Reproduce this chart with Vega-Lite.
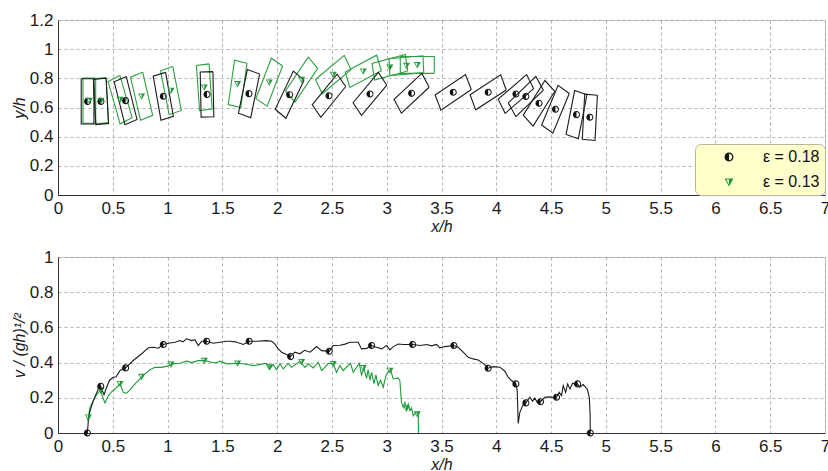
{
"$schema": "https://vega.github.io/schema/vega-lite/v6.json",
"padding": {"left": 10, "top": 10, "right": 0, "bottom": 0},
"spacing": 62,
"bounds": "flush",
"resolve": {"scale": {"color": "independent", "shape": "independent"}, "legend": {"color": "independent", "shape": "independent"}},
"datasets": {
"rects": [
{"s":"b","r":1,"k":1,"x":0.328,"y":0.797},{"s":"b","r":1,"k":2,"x":0.212,"y":0.797},{"s":"b","r":1,"k":3,"x":0.212,"y":0.487},{"s":"b","r":1,"k":4,"x":0.328,"y":0.487},{"s":"b","r":1,"k":5,"x":0.328,"y":0.797},
{"s":"b","r":2,"k":1,"x":0.439,"y":0.801},{"s":"b","r":2,"k":2,"x":0.323,"y":0.793},{"s":"b","r":2,"k":3,"x":0.345,"y":0.483},{"s":"b","r":2,"k":4,"x":0.461,"y":0.491},{"s":"b","r":2,"k":5,"x":0.439,"y":0.801},
{"s":"b","r":3,"k":1,"x":0.623,"y":0.812},{"s":"b","r":3,"k":2,"x":0.513,"y":0.776},{"s":"b","r":3,"k":3,"x":0.611,"y":0.482},{"s":"b","r":3,"k":4,"x":0.721,"y":0.518},{"s":"b","r":3,"k":5,"x":0.623,"y":0.812},
{"s":"b","r":4,"k":1,"x":0.982,"y":0.841},{"s":"b","r":4,"k":2,"x":0.869,"y":0.815},{"s":"b","r":4,"k":3,"x":0.940,"y":0.513},{"s":"b","r":4,"k":4,"x":1.053,"y":0.539},{"s":"b","r":4,"k":5,"x":0.982,"y":0.841},
{"s":"b","r":5,"k":1,"x":1.414,"y":0.846},{"s":"b","r":5,"k":2,"x":1.298,"y":0.844},{"s":"b","r":5,"k":3,"x":1.306,"y":0.534},{"s":"b","r":5,"k":4,"x":1.422,"y":0.536},{"s":"b","r":5,"k":5,"x":1.414,"y":0.846},
{"s":"b","r":6,"k":1,"x":1.840,"y":0.829},{"s":"b","r":6,"k":2,"x":1.728,"y":0.860},{"s":"b","r":6,"k":3,"x":1.647,"y":0.561},{"s":"b","r":6,"k":4,"x":1.759,"y":0.530},{"s":"b","r":6,"k":5,"x":1.840,"y":0.829},
{"s":"b","r":7,"k":1,"x":2.246,"y":0.788},{"s":"b","r":7,"k":2,"x":2.148,"y":0.850},{"s":"b","r":7,"k":3,"x":1.982,"y":0.588},{"s":"b","r":7,"k":4,"x":2.080,"y":0.526},{"s":"b","r":7,"k":5,"x":2.246,"y":0.788},
{"s":"b","r":8,"k":1,"x":2.626,"y":0.744},{"s":"b","r":8,"k":2,"x":2.547,"y":0.829},{"s":"b","r":8,"k":3,"x":2.320,"y":0.618},{"s":"b","r":8,"k":4,"x":2.399,"y":0.533},{"s":"b","r":8,"k":5,"x":2.626,"y":0.744},
{"s":"b","r":9,"k":1,"x":3.001,"y":0.753},{"s":"b","r":9,"k":2,"x":2.924,"y":0.840},{"s":"b","r":9,"k":3,"x":2.693,"y":0.633},{"s":"b","r":9,"k":4,"x":2.770,"y":0.546},{"s":"b","r":9,"k":5,"x":3.001,"y":0.753},
{"s":"b","r":10,"k":1,"x":3.387,"y":0.739},{"s":"b","r":10,"k":2,"x":3.321,"y":0.834},{"s":"b","r":10,"k":3,"x":3.067,"y":0.656},{"s":"b","r":10,"k":4,"x":3.134,"y":0.561},{"s":"b","r":10,"k":5,"x":3.387,"y":0.739},
{"s":"b","r":11,"k":1,"x":3.772,"y":0.723},{"s":"b","r":11,"k":2,"x":3.719,"y":0.826},{"s":"b","r":11,"k":3,"x":3.442,"y":0.686},{"s":"b","r":11,"k":4,"x":3.495,"y":0.582},{"s":"b","r":11,"k":5,"x":3.772,"y":0.723},
{"s":"b","r":12,"k":1,"x":4.091,"y":0.720},{"s":"b","r":12,"k":2,"x":4.040,"y":0.824},{"s":"b","r":12,"k":3,"x":3.761,"y":0.688},{"s":"b","r":12,"k":4,"x":3.812,"y":0.584},{"s":"b","r":12,"k":5,"x":4.091,"y":0.720},
{"s":"b","r":13,"k":1,"x":4.341,"y":0.729},{"s":"b","r":13,"k":2,"x":4.277,"y":0.826},{"s":"b","r":13,"k":3,"x":4.017,"y":0.657},{"s":"b","r":13,"k":4,"x":4.081,"y":0.560},{"s":"b","r":13,"k":5,"x":4.341,"y":0.729},
{"s":"b","r":14,"k":1,"x":4.430,"y":0.719},{"s":"b","r":14,"k":2,"x":4.361,"y":0.813},{"s":"b","r":14,"k":3,"x":4.110,"y":0.631},{"s":"b","r":14,"k":4,"x":4.179,"y":0.537},{"s":"b","r":14,"k":5,"x":4.430,"y":0.719},
{"s":"b","r":15,"k":1,"x":4.534,"y":0.711},{"s":"b","r":15,"k":2,"x":4.444,"y":0.785},{"s":"b","r":15,"k":3,"x":4.246,"y":0.547},{"s":"b","r":15,"k":4,"x":4.336,"y":0.473},{"s":"b","r":15,"k":5,"x":4.534,"y":0.711},
{"s":"b","r":16,"k":1,"x":4.666,"y":0.696},{"s":"b","r":16,"k":2,"x":4.564,"y":0.752},{"s":"b","r":16,"k":3,"x":4.414,"y":0.480},{"s":"b","r":16,"k":4,"x":4.516,"y":0.424},{"s":"b","r":16,"k":5,"x":4.666,"y":0.696},
{"s":"b","r":17,"k":1,"x":4.827,"y":0.687},{"s":"b","r":17,"k":2,"x":4.715,"y":0.716},{"s":"b","r":17,"k":3,"x":4.637,"y":0.415},{"s":"b","r":17,"k":4,"x":4.749,"y":0.386},{"s":"b","r":17,"k":5,"x":4.827,"y":0.687},
{"s":"b","r":18,"k":1,"x":4.923,"y":0.684},{"s":"b","r":18,"k":2,"x":4.807,"y":0.692},{"s":"b","r":18,"k":3,"x":4.785,"y":0.382},{"s":"b","r":18,"k":4,"x":4.901,"y":0.374},{"s":"b","r":18,"k":5,"x":4.923,"y":0.684},
{"s":"g","r":1,"k":1,"x":0.344,"y":0.802},{"s":"g","r":1,"k":2,"x":0.228,"y":0.802},{"s":"g","r":1,"k":3,"x":0.228,"y":0.492},{"s":"g","r":1,"k":4,"x":0.344,"y":0.492},{"s":"g","r":1,"k":5,"x":0.344,"y":0.802},
{"s":"g","r":2,"k":1,"x":0.439,"y":0.806},{"s":"g","r":2,"k":2,"x":0.323,"y":0.798},{"s":"g","r":2,"k":3,"x":0.345,"y":0.488},{"s":"g","r":2,"k":4,"x":0.461,"y":0.496},{"s":"g","r":2,"k":5,"x":0.439,"y":0.806},
{"s":"g","r":3,"k":1,"x":0.565,"y":0.820},{"s":"g","r":3,"k":2,"x":0.457,"y":0.778},{"s":"g","r":3,"k":3,"x":0.567,"y":0.488},{"s":"g","r":3,"k":4,"x":0.676,"y":0.530},{"s":"g","r":3,"k":5,"x":0.565,"y":0.820},
{"s":"g","r":4,"k":1,"x":0.773,"y":0.842},{"s":"g","r":4,"k":2,"x":0.662,"y":0.808},{"s":"g","r":4,"k":3,"x":0.753,"y":0.512},{"s":"g","r":4,"k":4,"x":0.864,"y":0.546},{"s":"g","r":4,"k":5,"x":0.773,"y":0.842},
{"s":"g","r":5,"k":1,"x":1.048,"y":0.881},{"s":"g","r":5,"k":2,"x":0.936,"y":0.852},{"s":"g","r":5,"k":3,"x":1.014,"y":0.551},{"s":"g","r":5,"k":4,"x":1.126,"y":0.580},{"s":"g","r":5,"k":5,"x":1.048,"y":0.881},
{"s":"g","r":6,"k":1,"x":1.379,"y":0.899},{"s":"g","r":6,"k":2,"x":1.263,"y":0.888},{"s":"g","r":6,"k":3,"x":1.292,"y":0.579},{"s":"g","r":6,"k":4,"x":1.407,"y":0.590},{"s":"g","r":6,"k":5,"x":1.379,"y":0.899},
{"s":"g","r":7,"k":1,"x":1.725,"y":0.904},{"s":"g","r":7,"k":2,"x":1.611,"y":0.925},{"s":"g","r":7,"k":3,"x":1.554,"y":0.620},{"s":"g","r":7,"k":4,"x":1.668,"y":0.599},{"s":"g","r":7,"k":5,"x":1.725,"y":0.904},
{"s":"g","r":8,"k":1,"x":2.050,"y":0.885},{"s":"g","r":8,"k":2,"x":1.947,"y":0.938},{"s":"g","r":8,"k":3,"x":1.806,"y":0.661},{"s":"g","r":8,"k":4,"x":1.909,"y":0.609},{"s":"g","r":8,"k":5,"x":2.050,"y":0.885},
{"s":"g","r":9,"k":1,"x":2.370,"y":0.868},{"s":"g","r":9,"k":2,"x":2.283,"y":0.945},{"s":"g","r":9,"k":3,"x":2.076,"y":0.714},{"s":"g","r":9,"k":4,"x":2.163,"y":0.637},{"s":"g","r":9,"k":5,"x":2.370,"y":0.868},
{"s":"g","r":10,"k":1,"x":2.674,"y":0.860},{"s":"g","r":10,"k":2,"x":2.612,"y":0.958},{"s":"g","r":10,"k":3,"x":2.350,"y":0.792},{"s":"g","r":10,"k":4,"x":2.412,"y":0.694},{"s":"g","r":10,"k":5,"x":2.674,"y":0.860},
{"s":"g","r":11,"k":1,"x":2.951,"y":0.852},{"s":"g","r":11,"k":2,"x":2.908,"y":0.959},{"s":"g","r":11,"k":3,"x":2.621,"y":0.844},{"s":"g","r":11,"k":4,"x":2.664,"y":0.737},{"s":"g","r":11,"k":5,"x":2.951,"y":0.852},
{"s":"g","r":12,"k":1,"x":3.192,"y":0.850},{"s":"g","r":12,"k":2,"x":3.169,"y":0.963},{"s":"g","r":12,"k":3,"x":2.866,"y":0.902},{"s":"g","r":12,"k":4,"x":2.889,"y":0.789},{"s":"g","r":12,"k":5,"x":3.192,"y":0.850},
{"s":"g","r":13,"k":1,"x":3.338,"y":0.839},{"s":"g","r":13,"k":2,"x":3.331,"y":0.955},{"s":"g","r":13,"k":3,"x":3.021,"y":0.935},{"s":"g","r":13,"k":4,"x":3.029,"y":0.819},{"s":"g","r":13,"k":5,"x":3.338,"y":0.839},
{"s":"g","r":14,"k":1,"x":3.434,"y":0.834},{"s":"g","r":14,"k":2,"x":3.434,"y":0.950},{"s":"g","r":14,"k":3,"x":3.124,"y":0.950},{"s":"g","r":14,"k":4,"x":3.124,"y":0.834},{"s":"g","r":14,"k":5,"x":3.434,"y":0.834}
],
"centers": [
{"s":"ε = 0.18","x":0.27,"y":0.642},{"s":"ε = 0.18","x":0.392,"y":0.642},{"s":"ε = 0.18","x":0.617,"y":0.647},{"s":"ε = 0.18","x":0.961,"y":0.677},{"s":"ε = 0.18","x":1.36,"y":0.69},{"s":"ε = 0.18","x":1.743,"y":0.695},{"s":"ε = 0.18","x":2.114,"y":0.688},{"s":"ε = 0.18","x":2.473,"y":0.681},{"s":"ε = 0.18","x":2.847,"y":0.693},{"s":"ε = 0.18","x":3.227,"y":0.697},{"s":"ε = 0.18","x":3.607,"y":0.704},{"s":"ε = 0.18","x":3.926,"y":0.704},{"s":"ε = 0.18","x":4.179,"y":0.693},{"s":"ε = 0.18","x":4.27,"y":0.675},{"s":"ε = 0.18","x":4.39,"y":0.629},{"s":"ε = 0.18","x":4.54,"y":0.588},{"s":"ε = 0.18","x":4.732,"y":0.551},{"s":"ε = 0.18","x":4.854,"y":0.533},
{"s":"ε = 0.13","x":0.286,"y":0.647},{"s":"ε = 0.13","x":0.392,"y":0.647},{"s":"ε = 0.13","x":0.566,"y":0.654},{"s":"ε = 0.13","x":0.763,"y":0.677},{"s":"ε = 0.13","x":1.031,"y":0.716},{"s":"ε = 0.13","x":1.335,"y":0.739},{"s":"ε = 0.13","x":1.639,"y":0.762},{"s":"ε = 0.13","x":1.928,"y":0.773},{"s":"ε = 0.13","x":2.223,"y":0.791},{"s":"ε = 0.13","x":2.512,"y":0.826},{"s":"ε = 0.13","x":2.786,"y":0.848},{"s":"ε = 0.13","x":3.029,"y":0.876},{"s":"ε = 0.13","x":3.18,"y":0.887},{"s":"ε = 0.13","x":3.279,"y":0.892}
],
"vel": [
{"s":"b","x":0.268,"v":0.0},{"s":"b","x":0.277,"v":0.07},{"s":"b","x":0.29,"v":0.12},{"s":"b","x":0.322,"v":0.184},{"s":"b","x":0.368,"v":0.25},{"s":"b","x":0.39,"v":0.265},{"s":"b","x":0.405,"v":0.24},{"s":"b","x":0.42,"v":0.218},{"s":"b","x":0.444,"v":0.26},{"s":"b","x":0.47,"v":0.3},{"s":"b","x":0.505,"v":0.317},{"s":"b","x":0.53,"v":0.32},{"s":"b","x":0.566,"v":0.355},{"s":"b","x":0.617,"v":0.37},{"s":"b","x":0.687,"v":0.412},{"s":"b","x":0.763,"v":0.45},{"s":"b","x":0.824,"v":0.484},{"s":"b","x":0.87,"v":0.487},{"s":"b","x":0.915,"v":0.482},{"s":"b","x":0.961,"v":0.503},{"s":"b","x":1.007,"v":0.51},{"s":"b","x":1.068,"v":0.516},{"s":"b","x":1.113,"v":0.525},{"s":"b","x":1.14,"v":0.518},{"s":"b","x":1.174,"v":0.535},{"s":"b","x":1.22,"v":0.525},{"s":"b","x":1.25,"v":0.53},{"s":"b","x":1.28,"v":0.497},{"s":"b","x":1.311,"v":0.521},{"s":"b","x":1.357,"v":0.521},{"s":"b","x":1.417,"v":0.51},{"s":"b","x":1.478,"v":0.516},{"s":"b","x":1.539,"v":0.521},{"s":"b","x":1.569,"v":0.521},{"s":"b","x":1.62,"v":0.518},{"s":"b","x":1.691,"v":0.503},{"s":"b","x":1.745,"v":0.521},{"s":"b","x":1.813,"v":0.521},{"s":"b","x":1.904,"v":0.525},{"s":"b","x":1.95,"v":0.521},{"s":"b","x":1.98,"v":0.505},{"s":"b","x":2.01,"v":0.478},{"s":"b","x":2.041,"v":0.459},{"s":"b","x":2.071,"v":0.45},{"s":"b","x":2.123,"v":0.434},{"s":"b","x":2.162,"v":0.459},{"s":"b","x":2.208,"v":0.45},{"s":"b","x":2.25,"v":0.47},{"s":"b","x":2.3,"v":0.459},{"s":"b","x":2.36,"v":0.491},{"s":"b","x":2.406,"v":0.468},{"s":"b","x":2.476,"v":0.464},{"s":"b","x":2.512,"v":0.497},{"s":"b","x":2.573,"v":0.499},{"s":"b","x":2.62,"v":0.505},{"s":"b","x":2.664,"v":0.516},{"s":"b","x":2.71,"v":0.516},{"s":"b","x":2.74,"v":0.516},{"s":"b","x":2.77,"v":0.478},{"s":"b","x":2.816,"v":0.481},{"s":"b","x":2.862,"v":0.497},{"s":"b","x":2.907,"v":0.487},{"s":"b","x":2.953,"v":0.478},{"s":"b","x":2.999,"v":0.497},{"s":"b","x":3.029,"v":0.472},{"s":"b","x":3.06,"v":0.491},{"s":"b","x":3.105,"v":0.506},{"s":"b","x":3.151,"v":0.503},{"s":"b","x":3.236,"v":0.503},{"s":"b","x":3.303,"v":0.497},{"s":"b","x":3.364,"v":0.503},{"s":"b","x":3.41,"v":0.495},{"s":"b","x":3.455,"v":0.503},{"s":"b","x":3.485,"v":0.484},{"s":"b","x":3.531,"v":0.491},{"s":"b","x":3.613,"v":0.497},{"s":"b","x":3.652,"v":0.487},{"s":"b","x":3.698,"v":0.459},{"s":"b","x":3.744,"v":0.43},{"s":"b","x":3.789,"v":0.421},{"s":"b","x":3.835,"v":0.415},{"s":"b","x":3.88,"v":0.396},{"s":"b","x":3.926,"v":0.368},{"s":"b","x":3.972,"v":0.377},{"s":"b","x":4.033,"v":0.374},{"s":"b","x":4.078,"v":0.351},{"s":"b","x":4.109,"v":0.317},{"s":"b","x":4.139,"v":0.298},{"s":"b","x":4.179,"v":0.279},{"s":"b","x":4.191,"v":0.241},{"s":"b","x":4.2,"v":0.055},{"s":"b","x":4.215,"v":0.117},{"s":"b","x":4.24,"v":0.155},{"s":"b","x":4.27,"v":0.171},{"s":"b","x":4.307,"v":0.203},{"s":"b","x":4.331,"v":0.18},{"s":"b","x":4.352,"v":0.199},{"s":"b","x":4.373,"v":0.174},{"s":"b","x":4.404,"v":0.178},{"s":"b","x":4.443,"v":0.203},{"s":"b","x":4.48,"v":0.205},{"s":"b","x":4.514,"v":0.203},{"s":"b","x":4.55,"v":0.203},{"s":"b","x":4.574,"v":0.231},{"s":"b","x":4.596,"v":0.212},{"s":"b","x":4.611,"v":0.269},{"s":"b","x":4.633,"v":0.231},{"s":"b","x":4.651,"v":0.279},{"s":"b","x":4.672,"v":0.25},{"s":"b","x":4.696,"v":0.282},{"s":"b","x":4.742,"v":0.279},{"s":"b","x":4.763,"v":0.26},{"s":"b","x":4.793,"v":0.275},{"s":"b","x":4.83,"v":0.25},{"s":"b","x":4.849,"v":0.203},{"s":"b","x":4.856,"v":0.108},{"s":"b","x":4.858,"v":0.0},
{"s":"g","x":0.27,"v":0.07},{"s":"g","x":0.277,"v":0.089},{"s":"g","x":0.292,"v":0.146},{"s":"g","x":0.338,"v":0.203},{"s":"g","x":0.368,"v":0.23},{"s":"g","x":0.39,"v":0.241},{"s":"g","x":0.41,"v":0.2},{"s":"g","x":0.429,"v":0.171},{"s":"g","x":0.459,"v":0.212},{"s":"g","x":0.49,"v":0.235},{"s":"g","x":0.52,"v":0.25},{"s":"g","x":0.566,"v":0.28},{"s":"g","x":0.596,"v":0.231},{"s":"g","x":0.627,"v":0.226},{"s":"g","x":0.657,"v":0.245},{"s":"g","x":0.703,"v":0.279},{"s":"g","x":0.748,"v":0.307},{"s":"g","x":0.794,"v":0.336},{"s":"g","x":0.839,"v":0.359},{"s":"g","x":0.885,"v":0.373},{"s":"g","x":0.946,"v":0.373},{"s":"g","x":1.0,"v":0.38},{"s":"g","x":1.037,"v":0.393},{"s":"g","x":1.113,"v":0.396},{"s":"g","x":1.174,"v":0.408},{"s":"g","x":1.22,"v":0.4},{"s":"g","x":1.28,"v":0.411},{"s":"g","x":1.341,"v":0.411},{"s":"g","x":1.402,"v":0.402},{"s":"g","x":1.44,"v":0.398},{"s":"g","x":1.478,"v":0.408},{"s":"g","x":1.539,"v":0.393},{"s":"g","x":1.645,"v":0.396},{"s":"g","x":1.7,"v":0.392},{"s":"g","x":1.782,"v":0.383},{"s":"g","x":1.85,"v":0.39},{"s":"g","x":1.904,"v":0.396},{"s":"g","x":1.934,"v":0.364},{"s":"g","x":1.964,"v":0.389},{"s":"g","x":1.995,"v":0.359},{"s":"g","x":2.026,"v":0.393},{"s":"g","x":2.056,"v":0.364},{"s":"g","x":2.101,"v":0.396},{"s":"g","x":2.132,"v":0.373},{"s":"g","x":2.208,"v":0.408},{"s":"g","x":2.254,"v":0.373},{"s":"g","x":2.284,"v":0.393},{"s":"g","x":2.329,"v":0.37},{"s":"g","x":2.375,"v":0.402},{"s":"g","x":2.406,"v":0.355},{"s":"g","x":2.436,"v":0.373},{"s":"g","x":2.466,"v":0.396},{"s":"g","x":2.512,"v":0.393},{"s":"g","x":2.542,"v":0.345},{"s":"g","x":2.573,"v":0.383},{"s":"g","x":2.603,"v":0.355},{"s":"g","x":2.635,"v":0.375},{"s":"g","x":2.67,"v":0.396},{"s":"g","x":2.694,"v":0.345},{"s":"g","x":2.725,"v":0.373},{"s":"g","x":2.749,"v":0.396},{"s":"g","x":2.77,"v":0.33},{"s":"g","x":2.792,"v":0.37},{"s":"g","x":2.816,"v":0.31},{"s":"g","x":2.83,"v":0.36},{"s":"g","x":2.847,"v":0.3},{"s":"g","x":2.862,"v":0.345},{"s":"g","x":2.883,"v":0.28},{"s":"g","x":2.901,"v":0.33},{"s":"g","x":2.922,"v":0.27},{"s":"g","x":2.944,"v":0.3},{"s":"g","x":2.968,"v":0.26},{"s":"g","x":2.993,"v":0.326},{"s":"g","x":3.023,"v":0.355},{"s":"g","x":3.04,"v":0.35},{"s":"g","x":3.059,"v":0.307},{"s":"g","x":3.105,"v":0.313},{"s":"g","x":3.12,"v":0.298},{"s":"g","x":3.135,"v":0.174},{"s":"g","x":3.151,"v":0.146},{"s":"g","x":3.166,"v":0.174},{"s":"g","x":3.181,"v":0.137},{"s":"g","x":3.196,"v":0.165},{"s":"g","x":3.212,"v":0.127},{"s":"g","x":3.227,"v":0.142},{"s":"g","x":3.242,"v":0.098},{"s":"g","x":3.266,"v":0.117},{"s":"g","x":3.288,"v":0.108},{"s":"g","x":3.29,"v":0.0}
],
"velmarks": [
{"s":"b","x":0.268,"v":0.0},{"s":"b","x":0.39,"v":0.265},{"s":"b","x":0.617,"v":0.37},{"s":"b","x":0.961,"v":0.503},{"s":"b","x":1.357,"v":0.521},{"s":"b","x":1.745,"v":0.521},{"s":"b","x":2.123,"v":0.434},{"s":"b","x":2.476,"v":0.464},{"s":"b","x":2.862,"v":0.497},{"s":"b","x":3.236,"v":0.503},{"s":"b","x":3.613,"v":0.497},{"s":"b","x":3.926,"v":0.368},{"s":"b","x":4.179,"v":0.279},{"s":"b","x":4.27,"v":0.171},{"s":"b","x":4.404,"v":0.178},{"s":"b","x":4.55,"v":0.203},{"s":"b","x":4.742,"v":0.279},{"s":"b","x":4.858,"v":0.0},
{"s":"g","x":0.277,"v":0.089},{"s":"g","x":0.39,"v":0.241},{"s":"g","x":0.566,"v":0.28},{"s":"g","x":0.763,"v":0.32},{"s":"g","x":1.031,"v":0.39},{"s":"g","x":1.335,"v":0.411},{"s":"g","x":1.639,"v":0.396},{"s":"g","x":1.928,"v":0.375},{"s":"g","x":2.223,"v":0.405},{"s":"g","x":2.512,"v":0.393},{"s":"g","x":2.786,"v":0.37},{"s":"g","x":3.029,"v":0.355},{"s":"g","x":3.18,"v":0.14},{"s":"g","x":3.279,"v":0.108}
]
},
"vconcat": [
{
"width": 767, "height": 175,
"layer": [
{"data": {"name": "rects"}, "transform": [{"filter": "datum.s == 'g'"}],
 "mark": {"type": "line", "color": "#2ea043", "strokeWidth": 1.1},
 "encoding": {"x": {"field": "x", "type": "quantitative", "scale": {"domain": [0, 7], "nice": false},
   "axis": {"values": [0,0.5,1,1.5,2,2.5,3,3.5,4,4.5,5,5.5,6,6.5,7], "tickCount": 30, "format": "~g", "title": "x/h", "labelFlush": false, "labelOverlap": false, "grid": true}},
  "y": {"field": "y", "type": "quantitative", "scale": {"domain": [0, 1.2], "nice": false},
   "axis": {"values": [0,0.2,0.4,0.6,0.8,1,1.2], "tickCount": 20, "format": "~g", "title": "y/h", "labelOverlap": false, "labelFlush": false, "grid": true}},
  "detail": {"field": "r"}, "order": {"field": "k"}}},
{"data": {"name": "rects"}, "transform": [{"filter": "datum.s == 'b'"}],
 "mark": {"type": "line", "color": "#1c1c1c", "strokeWidth": 1.1},
 "encoding": {"x": {"field": "x", "type": "quantitative"}, "y": {"field": "y", "type": "quantitative"},
  "detail": {"field": "r"}, "order": {"field": "k"}}},
{"data": {"name": "centers"},
 "mark": {"type": "point", "filled": true, "strokeWidth": 0, "opacity": 1, "size": 50},
 "encoding": {"x": {"field": "x", "type": "quantitative"}, "y": {"field": "y", "type": "quantitative"},
  "color": {"field": "s", "type": "nominal", "scale": {"domain": ["ε = 0.18", "ε = 0.13"], "range": ["#111111", "#1f9a3a"]},
   "legend": {"title": null, "orient": "bottom-right", "offset": 0, "fillColor": "#ffffcc", "strokeColor": "#b5b5a0", "cornerRadius": 6, "padding": 5, "rowPadding": 9, "labelFont": "Liberation Sans", "labelFontSize": 16, "labelColor": "#111", "symbolSize": 80, "symbolOffset": 21, "labelOffset": 26}},
  "shape": {"field": "s", "type": "nominal", "scale": {"domain": ["ε = 0.18", "ε = 0.13"], "range": ["M0,-1A1,1 0 1,1 0,1A1,1 0 1,1 0,-1ZM0,-0.72A0.72,0.72 0 1,0 0,0.72A0.72,0.72 0 1,0 0,-0.72ZM0,1A1,1 0 0,1 0,-1Z", "M-1,-0.8L1,-0.8L0,1ZM-0.6,-0.56L0,0.56L0.6,-0.56ZM0,-0.8L1,-0.8L0,1Z"]},
   "legend": {"title": null, "orient": "bottom-right", "offset": 0, "fillColor": "#ffffcc", "strokeColor": "#b5b5a0", "cornerRadius": 6, "padding": 5, "rowPadding": 9, "labelFont": "Liberation Sans", "labelFontSize": 16, "labelColor": "#111", "symbolSize": 80, "symbolOffset": 21, "labelOffset": 26}}}}
]
},
{
"width": 767, "height": 176,
"layer": [
{"data": {"name": "vel"}, "transform": [{"filter": "datum.s == 'g'"}],
 "mark": {"type": "line", "color": "#1f9a3a", "strokeWidth": 1.1},
 "encoding": {"x": {"field": "x", "type": "quantitative", "scale": {"domain": [0, 7], "nice": false},
   "axis": {"values": [0,0.5,1,1.5,2,2.5,3,3.5,4,4.5,5,5.5,6,6.5,7], "tickCount": 30, "format": "~g", "title": "x/h", "labelFlush": false, "labelOverlap": false, "grid": true}},
  "y": {"field": "v", "type": "quantitative", "scale": {"domain": [0, 1], "nice": false},
   "axis": {"values": [0,0.2,0.4,0.6,0.8,1], "tickCount": 20, "format": "~g", "title": "v / (gh)¹/²", "labelOverlap": false, "labelFlush": false, "grid": true}}}},
{"data": {"name": "vel"}, "transform": [{"filter": "datum.s == 'b'"}],
 "mark": {"type": "line", "color": "#1c1c1c", "strokeWidth": 1.1},
 "encoding": {"x": {"field": "x", "type": "quantitative"}, "y": {"field": "v", "type": "quantitative"}}},
{"data": {"name": "velmarks"}, "transform": [{"filter": "datum.s == 'g'"}],
 "mark": {"type": "point", "filled": true, "strokeWidth": 0, "opacity": 1, "size": 50, "color": "#1f9a3a", "shape": "M-1,-0.8L1,-0.8L0,1ZM-0.6,-0.56L0,0.56L0.6,-0.56ZM0,-0.8L1,-0.8L0,1Z"},
 "encoding": {"x": {"field": "x", "type": "quantitative"}, "y": {"field": "v", "type": "quantitative"}}},
{"data": {"name": "velmarks"}, "transform": [{"filter": "datum.s == 'b'"}],
 "mark": {"type": "point", "filled": true, "strokeWidth": 0, "opacity": 1, "size": 50, "color": "#111111", "shape": "M0,-1A1,1 0 1,1 0,1A1,1 0 1,1 0,-1ZM0,-0.72A0.72,0.72 0 1,0 0,0.72A0.72,0.72 0 1,0 0,-0.72ZM0,1A1,1 0 0,1 0,-1Z"},
 "encoding": {"x": {"field": "x", "type": "quantitative"}, "y": {"field": "v", "type": "quantitative"}}}
]
}
],
"config": {
"font": "Liberation Sans",
"view": {"stroke": "#c8c8c8", "strokeWidth": 1},
"axis": {"labelFont": "Liberation Sans", "labelFontSize": 17, "labelColor": "#1a1a1a", "titleFont": "Liberation Sans", "titleFontSize": 16, "titleFontStyle": "italic", "titleFontWeight": "normal", "titleColor": "#1a1a1a", "domainColor": "#333333", "gridColor": "#a0a0a0", "gridDash": [3, 3], "gridWidth": 0.8, "ticks": false, "labelPadding": 5, "titlePadding": 2, "labelOverlap": false}
}
}
